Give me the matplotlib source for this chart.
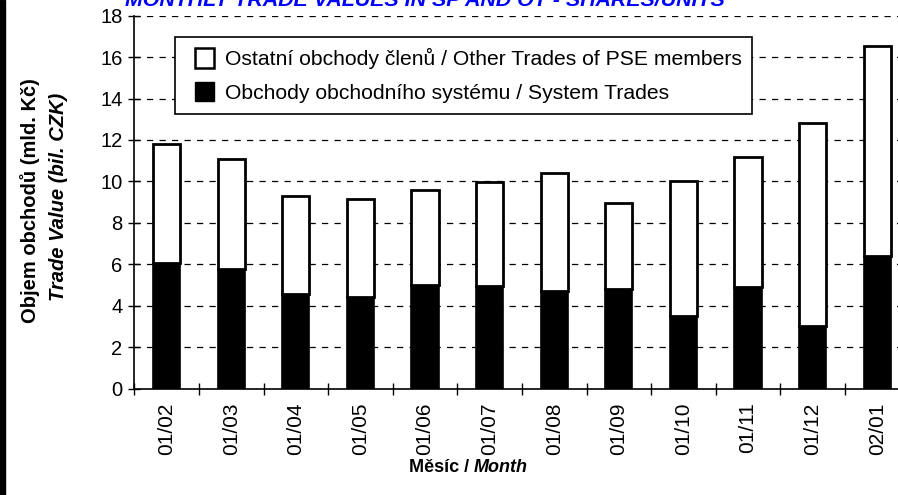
import matplotlib
matplotlib.use('Agg')
import matplotlib.pyplot as plt
from matplotlib.patches import Patch, Rectangle
from matplotlib.legend_handler import HandlerPatch
import numpy as np

plt.rcParams['font.family'] = ['Liberation Sans', 'DejaVu Sans']

months = ['01/02', '01/03', '01/04', '01/05', '01/06', '01/07',
          '01/08', '01/09', '01/10', '01/11', '01/12', '02/01']
# objem celkem a obchody systemu (mld. Kc)
total = [11.8, 11.1, 9.3, 9.15, 9.6, 9.95, 10.4, 8.95, 10.0, 11.2, 12.8, 16.55]
system = [6.05, 5.75, 4.55, 4.4, 5.0, 4.95, 4.7, 4.8, 3.5, 4.9, 3.0, 6.4]
others = [t - s for t, s in zip(total, system)]

label_others = 'Ostatní obchody členů / Other Trades of PSE members'
label_system = 'Obchody obchodního systému / System Trades'

W, H = 898, 495
fig = plt.figure(figsize=(W / 100, H / 100), dpi=100)

# osa presahuje pravy okraj obrazku (jako v originale)
ax_l, ax_r = 134.3, 909.5
ax_b, ax_t = 388.5, 15.7
ax = fig.add_axes([ax_l / W, 1 - ax_b / H, (ax_r - ax_l) / W, (ax_b - ax_t) / H])

x = np.arange(len(months))
ax.bar(x, system, width=0.42, color='black', edgecolor='black', linewidth=1.2, zorder=3)
ax.bar(x, others, bottom=system, width=0.42, color='white', edgecolor='black',
       linewidth=2, zorder=3)

ax.set_xlim(-0.5, len(months) - 0.5)
ax.set_ylim(0, 18)
ax.set_yticks(np.arange(0, 19, 2))
for v in np.arange(2, 19, 2):
    ax.axhline(v, color='black', lw=0.9, dashes=(5, 5), zorder=1)

ax.set_xticks(x)
ax.set_xticklabels(months, rotation=90, fontsize=15)
ax.set_xticks(np.arange(-0.5, len(months), 1), minor=True)
ax.tick_params(axis='x', which='major', length=0, pad=10)
ax.tick_params(axis='x', which='minor', direction='inout', length=9, width=1)
ax.tick_params(axis='y', direction='inout', length=9, width=1, labelsize=14.5, pad=4)

for s in ['top', 'right']:
    ax.spines[s].set_visible(False)
ax.spines['left'].set_linewidth(1.2)
ax.spines['bottom'].set_linewidth(1.2)
ax.spines['bottom'].set_zorder(4)


def square_right(legend, orig_handle, xdescent, ydescent, width, height, fontsize):
    # ctverecek u praveho okraje handle boxu
    s = 14
    return Rectangle((width - s - xdescent, (height - s) / 2 - ydescent), s, s)


handles = [Patch(facecolor='white', edgecolor='black', linewidth=1.8, label=label_others),
           Patch(facecolor='black', edgecolor='black', label=label_system)]
leg = ax.legend(handles=handles, loc='upper left', bbox_to_anchor=(0.052, 0.9425),
                borderaxespad=0, fontsize=15.2, fancybox=False, framealpha=1,
                edgecolor='black', handlelength=1.35, handleheight=0.7,
                handletextpad=0.5, labelspacing=0.7, borderpad=0.52,
                handler_map={Patch: HandlerPatch(patch_func=square_right)})
leg.get_frame().set_linewidth(1.2)
leg.set_zorder(5)

# popisky os
fig.text(30 / W, 1 - 201 / H, 'Objem obchodů (mld. Kč)', rotation=90,
         fontsize=14.5, fontweight='bold', ha='center', va='center')
fig.text(58 / W, 1 - 197 / H, 'Trade Value (bil. CZK)', rotation=90,
         fontsize=14.5, fontweight='bold', style='italic', ha='center', va='center')
fig.text(474 / W, 1 - 468 / H, 'Měsíc / ', fontsize=13, fontweight='bold',
         ha='right', va='center')
fig.text(474 / W, 1 - 468 / H, 'Month', fontsize=13, fontweight='bold',
         style='italic', ha='left', va='center')

# nadpis - orezany hornim okrajem
fig.text(125 / W, 1 - 6.5 / H, 'MONTHLY TRADE VALUES IN SP AND OT - SHARES/UNITS',
         fontsize=15.4, fontweight='bold', style='italic', color='#0000FF',
         ha='left', va='baseline')

# cerny okraj vlevo
fig.add_artist(plt.Rectangle((0, 0), 4.5 / W, 1, transform=fig.transFigure,
                             color='black'))

fig.savefig('out.png', dpi=100)
